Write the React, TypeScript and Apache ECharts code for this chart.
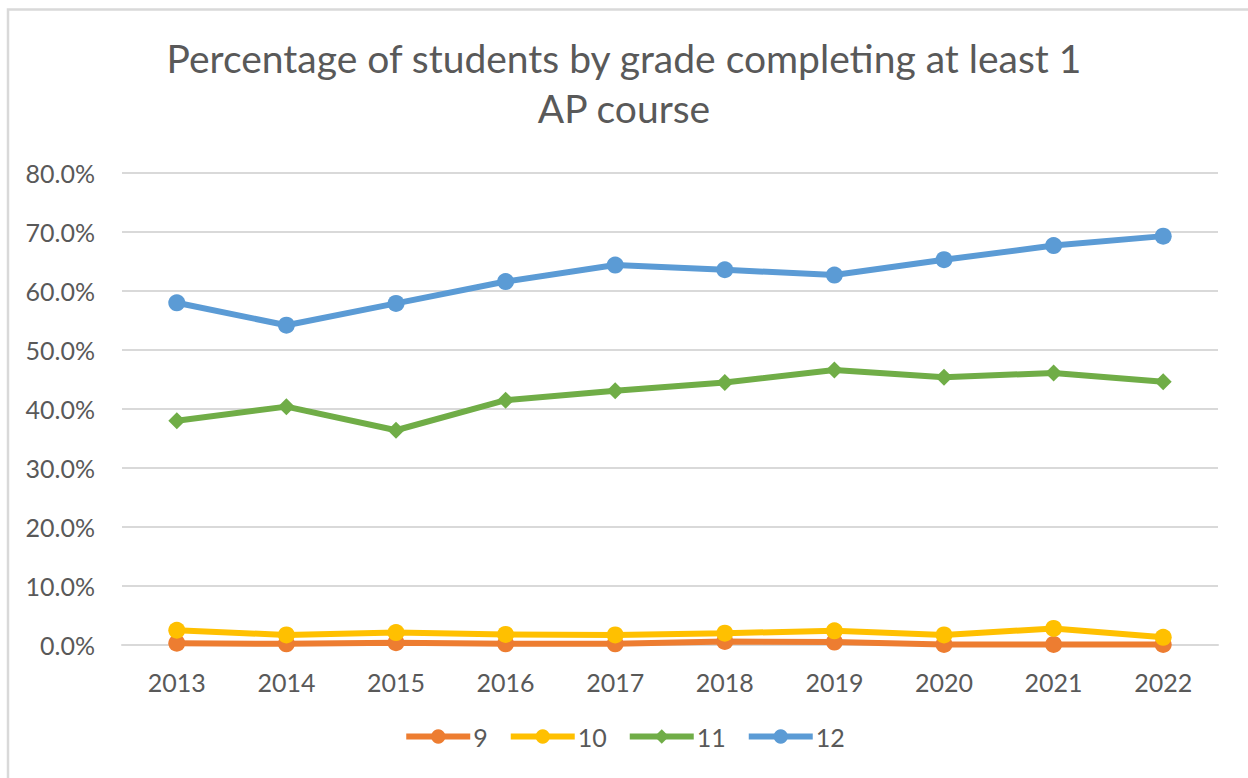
import React, { useEffect, useRef } from "react";
import * as echarts from "echarts";

const years = ["2013", "2014", "2015", "2016", "2017", "2018", "2019", "2020", "2021", "2022"];
const grade9 = [0.3, 0.2, 0.4, 0.2, 0.2, 0.6, 0.5, 0.1, 0.1, 0.1];
const grade10 = [2.5, 1.7, 2.1, 1.8, 1.7, 2.0, 2.4, 1.7, 2.8, 1.3];
const grade11 = [38.0, 40.4, 36.4, 41.5, 43.1, 44.5, 46.6, 45.4, 46.1, 44.6];
const grade12 = [58.0, 54.2, 57.9, 61.6, 64.4, 63.6, 62.7, 65.3, 67.7, 69.3];
const titleText = "Percentage of students by grade completing at least 1\nAP course";

const FONT = "Lato, 'Open Sans', sans-serif";
const TEXT = "#595959";

function mk(name: string, data: number[], color: string, symbol: string, size: number) {
  return {
    name,
    type: "line",
    data,
    symbol,
    symbolSize: size,
    lineStyle: { color, width: 6 },
    itemStyle: { color },
  };
}

export default function App() {
  const ref = useRef<HTMLDivElement>(null);
  useEffect(() => {
    const chart = echarts.init(ref.current!, undefined, { renderer: "svg" });
    chart.setOption({
      animation: false,
      backgroundColor: "#ffffff",
      textStyle: { fontFamily: FONT },
      graphic: [
        {
          type: "rect",
          shape: { x: 8, y: 9.5, width: 1300, height: 900 },
          style: { fill: "none", stroke: "#D9D9D9", lineWidth: 2.5 },
          silent: true,
        },
      ],
      title: {
        text: titleText,
        left: "center",
        top: 28,
        textStyle: {
          fontFamily: FONT,
          fontSize: 39,
          fontWeight: "normal",
          color: TEXT,
          lineHeight: 50,
          align: "center",
        },
      },
      legend: {
        bottom: 24,
        left: "center",
        itemWidth: 64,
        itemHeight: 18,
        itemGap: 20,
        lineStyle: { width: 6 },
        textStyle: { fontFamily: FONT, fontSize: 25, color: TEXT, padding: [0, 0, 0, -2] },
        data: ["9", "10", "11", "12"],
      },
      grid: { left: 122, right: 30, top: 173, bottom: 133 },
      xAxis: {
        type: "category",
        data: years,
        boundaryGap: true,
        axisLine: { lineStyle: { color: "#D9D9D9", width: 2 } },
        axisTick: { show: false },
        axisLabel: { color: TEXT, fontFamily: FONT, fontSize: 25, margin: 24 },
      },
      yAxis: {
        type: "value",
        min: 0,
        max: 80,
        interval: 10,
        axisLine: { show: false },
        axisTick: { show: false },
        splitLine: { lineStyle: { color: "#D9D9D9", width: 2 } },
        axisLabel: {
          color: TEXT,
          fontFamily: FONT,
          fontSize: 25,
          margin: 27,
          formatter: (v: number) => v.toFixed(1) + "%",
        },
      },
      series: [
        mk("9", grade9, "#ED7D31", "circle", 17),
        mk("10", grade10, "#FFC000", "circle", 17),
        mk("11", grade11, "#70AD47", "diamond", 17),
        mk("12", grade12, "#5B9BD5", "circle", 17),
      ],
    });
    return () => chart.dispose();
  }, []);
  return (
    <div
      ref={ref}
      style={{ position: "absolute", left: 0, top: 0, width: 1248, height: 778 }}
    />
  );
}
